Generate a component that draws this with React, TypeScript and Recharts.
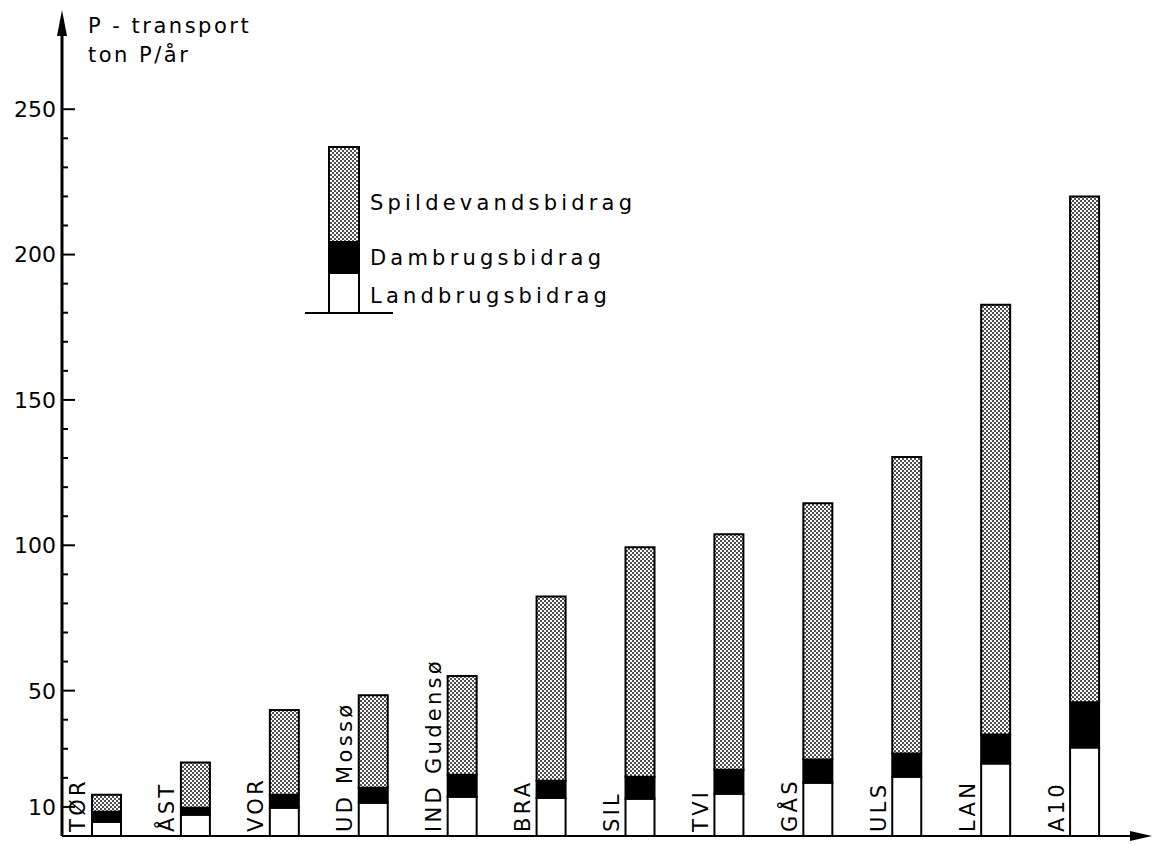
import { Bar, BarChart, Legend, XAxis, YAxis } from "recharts";

const CATEGORIES = ["TØR", "ÅST", "VOR", "UD Mossø", "IND Gudensø", "BRA", "SIL", "TVI", "GÅS", "ULS", "LAN", "A10"];
const LANDBRUG = [4.8, 7.3, 9.7, 11.4, 13.5, 13.1, 12.8, 14.5, 18.3, 20.4, 24.9, 30.4];
const DAMBRUG = [3.5, 2.4, 4.5, 5.2, 7.6, 5.9, 7.6, 8.3, 8.0, 8.0, 10.0, 15.6];
const SPILDEVAND = [5.9, 15.6, 29.1, 31.8, 33.9, 63.4, 78.9, 81.0, 88.2, 102.0, 147.8, 174.0];
const Y_TICKS = [10, 20, 30, 40, 50, 60, 70, 80, 90, 100, 110, 120, 130, 140, 150, 160, 170, 180, 190, 200, 210, 220, 230, 240, 250];
const Y_TICK_LABELS = [10, 50, 100, 150, 200, 250];

const data = CATEGORIES.map((name, i) => ({
  name,
  landbrug: LANDBRUG[i],
  dambrug: DAMBRUG[i],
  spildevand: SPILDEVAND[i],
}));

const FONT = "'DejaVu Sans', sans-serif";

function YTick({ x, y, payload }: any) {
  const major = Y_TICK_LABELS.includes(payload.value);
  return (
    <g>
      <line x1={x} x2={x + (major ? 13 : 6)} y1={y} y2={y} stroke="#000" strokeWidth={2} />
      {major && (
        <text x={x - 6} y={y} dy="0.36em" textAnchor="end" fontFamily={FONT} fontSize={22} fill="#000">
          {payload.value}
        </text>
      )}
    </g>
  );
}

function XTick({ x, y, payload }: any) {
  return (
    <text
      transform={`translate(${x - 21},${y - 4}) rotate(-90)`}
      textAnchor="start"
      fontFamily={FONT}
      fontSize={21}
      letterSpacing={3.3}
      fill="#000"
    >
      {payload.value}
    </text>
  );
}

// legend drawn as a small stacked bar with labels beside it
const LEGEND_ROWS: Record<string, { y0: number; y1: number; fill: string; ty: number }> = {
  spildevand: { y0: 17, y1: 112, fill: "url(#stipple-legend)", ty: 72 },
  dambrug: { y0: 112, y1: 143, fill: "#000", ty: 127 },
  landbrug: { y0: 143, y1: 183, fill: "#fff", ty: 165 },
};

function LegendBox({ payload }: any) {
  return (
    <svg width={380} height={200}>
      <defs>
        <pattern id="stipple-legend" width="4" height="4" patternUnits="userSpaceOnUse">
          <rect width="4" height="4" fill="#fff" />
          <rect width="2" height="2" fill="#505050" />
          <rect x="2" y="2" width="2" height="2" fill="#505050" />
        </pattern>
      </defs>
      {(payload || []).map((p: any) => {
        const row = LEGEND_ROWS[p.dataKey];
        if (!row) return null;
        return (
          <g key={p.dataKey}>
            <rect x={39} y={row.y0} width={30} height={row.y1 - row.y0} fill={row.fill} stroke="#000" strokeWidth={2} />
            <text x={80} y={row.ty} dy="0.36em" fontFamily={FONT} fontSize={21} letterSpacing={4.2} fill="#000">
              {p.value}
            </text>
          </g>
        );
      })}
      <line x1={15} x2={103} y1={183} y2={183} stroke="#000" strokeWidth={2} />
    </svg>
  );
}

export default function App() {
  return (
    <div style={{ position: "absolute", left: 0, top: 0, width: 1152, height: 845, background: "#fff" }}>
      <BarChart width={1152} height={845} data={data} margin={{ top: 22, right: 23, bottom: 8, left: 0 }}>
        <defs>
          <pattern id="stipple" width="4" height="4" patternUnits="userSpaceOnUse">
            <rect width="4" height="4" fill="#fff" />
            <rect width="2" height="2" fill="#505050" />
            <rect x="2" y="2" width="2" height="2" fill="#505050" />
          </pattern>
        </defs>
        <XAxis
          dataKey="name"
          height={1}
          interval={0}
          tickSize={0}
          tickMargin={0}
          tickLine={false}
          axisLine={{ stroke: "#000", strokeWidth: 2 }}
          tick={<XTick />}
        />
        <YAxis
          type="number"
          domain={[0, 280]}
          ticks={Y_TICKS}
          interval={0}
          width={62}
          tickSize={0}
          tickMargin={0}
          tickLine={false}
          axisLine={{ stroke: "#000", strokeWidth: 3 }}
          tick={<YTick />}
        />
        <Legend
          layout="horizontal"
          verticalAlign="middle"
          align="center"
          wrapperStyle={{ left: 290, top: 130, width: 380, height: 200 }}
          content={<LegendBox />}
        />
        <Bar dataKey="landbrug" name="Landbrugsbidrag" stackId="a" barSize={29} fill="#fff" stroke="#000" strokeWidth={2} isAnimationActive={false} />
        <Bar dataKey="dambrug" name="Dambrugsbidrag" stackId="a" barSize={29} fill="#000" stroke="#000" strokeWidth={2} isAnimationActive={false} />
        <Bar dataKey="spildevand" name="Spildevandsbidrag" stackId="a" barSize={29} fill="url(#stipple)" stroke="#000" strokeWidth={2} isAnimationActive={false} />
      </BarChart>
      <svg width={1152} height={845} style={{ position: "absolute", left: 0, top: 0, pointerEvents: "none" }}>
        <line x1={62} x2={62} y1={22} y2={34} stroke="#000" strokeWidth={3} />
        <polygon points="62,10 57,36 67,36" fill="#000" />
        <line x1={1129} x2={1134} y1={836} y2={836} stroke="#000" strokeWidth={2} />
        <polygon points="1152,836 1130,831 1130,841" fill="#000" />
        <text x={88} y={33} fontFamily={FONT} fontSize={21} letterSpacing={2.5} fill="#000">
          P - transport
        </text>
        <text x={88} y={62} fontFamily={FONT} fontSize={21} letterSpacing={2.5} fill="#000">
          ton P/år
        </text>
      </svg>
    </div>
  );
}
